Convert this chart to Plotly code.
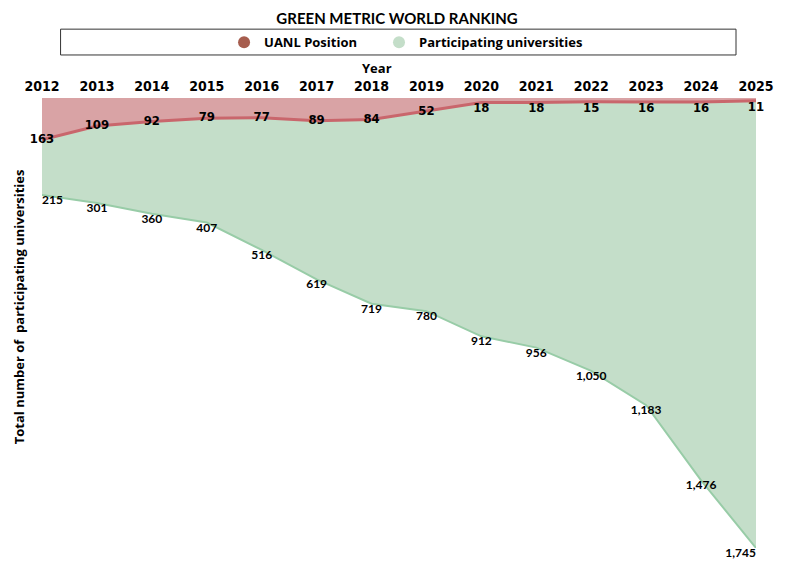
import plotly.graph_objects as go

# datos
years = [2012, 2013, 2014, 2015, 2016, 2017, 2018, 2019, 2020, 2021, 2022, 2023, 2024, 2025]
uanl_position = [163, 109, 92, 79, 77, 89, 84, 52, 18, 18, 15, 16, 16, 11]
participating = [215, 301, 360, 407, 516, 619, 719, 780, 912, 956, 1050, 1183, 1476, 1745]

red_fill = "#d9a3a5"
red_line = "#c9666c"
green_fill = "#c4dec9"
green_line = "#98cca7"

condensed = "DejaVu Sans Condensed, Liberation Sans Narrow, Roboto, sans-serif"

lbl_green = [f"{v:,}" for v in participating]
pos_green = ["bottom right"] + ["bottom center"] * 12 + ["bottom left"]
# las etiquetas rojas cercanas al borde superior van debajo de la línea
pos_red = ["middle center"] * 8 + ["bottom center"] * 6

fig = go.Figure()

# área roja: posición UANL (desde arriba hasta la línea)
fig.add_trace(go.Scatter(
    x=years, y=uanl_position, stackgroup="one", mode="lines+text",
    line=dict(color=red_line, width=3), fillcolor=red_fill,
    text=[str(v) for v in uanl_position], textposition=pos_red,
    textfont=dict(family=condensed, size=13, color="black", weight="bold"),
    showlegend=False, cliponaxis=False, hoverinfo="skip"))

# área verde: universidades participantes (apilada)
fig.add_trace(go.Scatter(
    x=years, y=participating, stackgroup="one", mode="lines+text",
    line=dict(color=green_line, width=2), fillcolor=green_fill,
    text=lbl_green, textposition=pos_green,
    textfont=dict(family="Lato", size=12, color="black", weight="bold"),
    showlegend=False, cliponaxis=False, hoverinfo="skip"))

# entradas de leyenda con círculos (una leyenda por entrada para ubicarlas)
fig.add_trace(go.Scatter(x=[None], y=[None], mode="markers", name="UANL Position",
                         marker=dict(color="#a65d4e", size=12), legend="legend"))
fig.add_trace(go.Scatter(x=[None], y=[None], mode="markers", name="Participating universities",
                         marker=dict(color=green_fill, size=12), legend="legend2"))

legend_font = dict(family="Open Sans", size=13, color="black", weight="bold")

fig.update_layout(
    width=778, height=566,
    margin=dict(l=34, r=26, t=90, b=26),
    paper_bgcolor="white", plot_bgcolor="white",
    title=dict(text="<b>GREEN METRIC WORLD RANKING</b>", x=0.5, xanchor="center",
               y=0.99, yanchor="top", pad=dict(t=0, b=0),
               font=dict(family="Lato", size=15, color="black")),
    legend=dict(orientation="h", x=0.255, xanchor="left", y=1.124, yanchor="middle",
                font=legend_font, bgcolor="rgba(0,0,0,0)"),
    legend2=dict(orientation="h", x=0.472, xanchor="left", y=1.124, yanchor="middle",
                 font=legend_font, bgcolor="rgba(0,0,0,0)"),
    xaxis=dict(side="top", range=[2012, 2025], tickmode="array", tickvals=years,
               ticktext=[str(y) for y in years], showgrid=False, zeroline=False,
               showline=False, ticks="", ticklabelstandoff=3,
               tickfont=dict(family=condensed, size=14, color="black", weight="bold")),
    yaxis=dict(range=[1756, 0], showticklabels=False, showgrid=False, zeroline=False,
               showline=False, ticks=""),
    shapes=[dict(type="rect", xref="paper", yref="paper", x0=0.026, x1=0.972,
                 y0=1.0956, y1=1.153, line=dict(color="#333333", width=1))],
    annotations=[
        dict(text="<b>Year</b>", xref="paper", yref="paper", x=0.469, y=1.067,
             xanchor="center", yanchor="middle", showarrow=False,
             font=dict(family="Open Sans", size=13, color="black")),
        dict(text="<b>Total number of  participating universities</b>", xref="paper", yref="paper",
             x=-0.033, y=0.536, xanchor="center", yanchor="middle", textangle=-90, showarrow=False,
             font=dict(family="Open Sans", size=13, color="black")),
    ],
)

fig.write_html("out.html")
